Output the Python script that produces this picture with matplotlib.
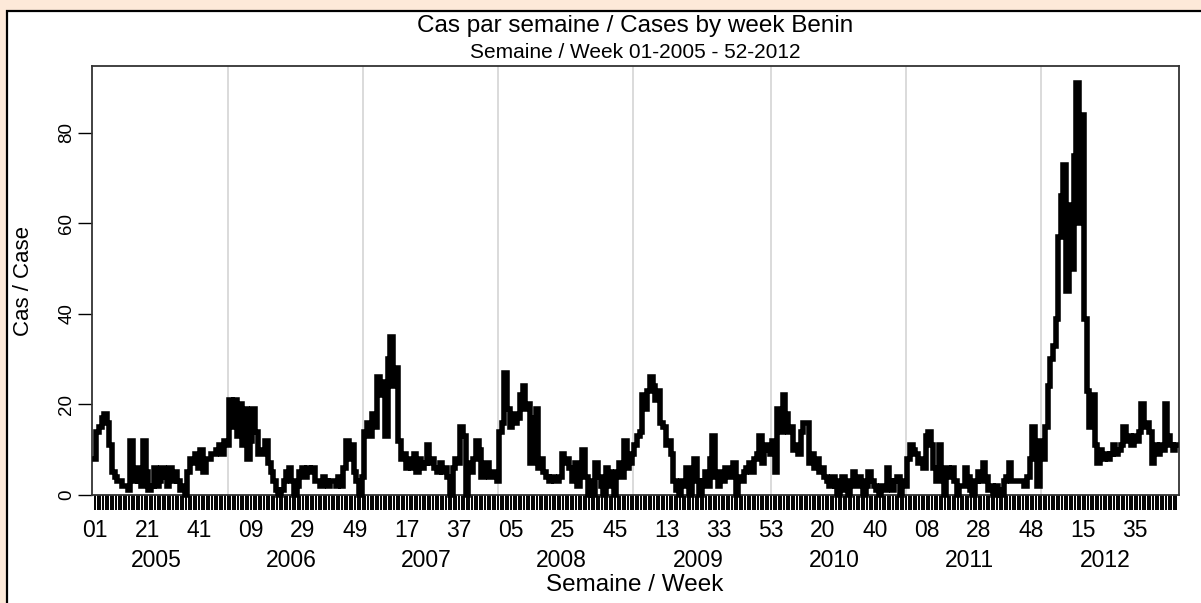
import matplotlib
matplotlib.use("Agg")
import matplotlib.pyplot as plt
from matplotlib.patches import Rectangle
import numpy as np

plt.rcParams['font.family'] = ['Liberation Sans', 'DejaVu Sans']

# weekly cases, 2005 wk01 .. 2012 wk52 (2009 has 53 weeks)
years = ['2005', '2006', '2007', '2008', '2009', '2010', '2011', '2012']
weeks_per_year = [52, 52, 52, 52, 53, 52, 52, 52]

cases_2005 = [8, 14, 15, 17, 18, 16, 11, 5, 4, 3, 3, 2, 2, 1, 12, 3, 6, 3, 2, 12,
              5, 1, 2, 6, 2, 3, 6, 4, 2, 6, 3, 5, 3, 1, 2, 0, 5, 8, 7, 9,
              6, 10, 5, 8, 8, 9, 9, 10, 11, 9, 12, 11]
cases_2006 = [21, 15, 21, 13, 20, 11, 19, 8, 12, 19, 14, 9, 9, 10, 12, 7, 5, 3, 1, 0,
              1, 3, 5, 6, 3, 0, 2, 5, 6, 4, 6, 5, 6, 3, 3, 2, 4, 3, 2, 3,
              3, 2, 4, 2, 6, 12, 8, 11, 5, 3, 0, 4]
cases_2007 = [14, 16, 13, 18, 15, 26, 22, 25, 13, 30, 35, 24, 28, 12, 8, 9, 6, 8, 6, 9,
              5, 8, 6, 7, 11, 7, 8, 6, 5, 7, 5, 6, 4, 0, 6, 8, 7, 15, 13, 0,
              7, 5, 8, 12, 10, 4, 6, 7, 4, 4, 5, 3]
cases_2008 = [14, 16, 27, 19, 15, 18, 16, 17, 22, 24, 19, 20, 7, 17, 19, 6, 8, 5, 4, 3,
              4, 3, 3, 4, 9, 7, 8, 6, 3, 7, 2, 5, 10, 4, 0, 3, 0, 7, 4, 2,
              0, 6, 5, 2, 0, 5, 7, 4, 12, 6, 7, 9]
cases_2009 = [11, 13, 14, 22, 19, 23, 26, 24, 21, 23, 16, 15, 11, 12, 9, 3, 1, 0, 3, 2,
              6, 0, 4, 8, 3, 0, 3, 5, 2, 8, 13, 4, 2, 5, 3, 6, 4, 5, 7, 0,
              4, 3, 5, 6, 7, 5, 8, 9, 13, 7, 10, 11, 9]
cases_2010 = [12, 5, 19, 14, 22, 18, 14, 15, 10, 11, 9, 14, 16, 16, 7, 9, 6, 8, 5, 6,
              4, 3, 2, 4, 2, 0, 3, 4, 1, 0, 3, 5, 2, 4, 3, 0, 2, 5, 3, 2,
              1, 0, 2, 1, 6, 3, 1, 3, 4, 0, 3, 2]
cases_2011 = [8, 11, 10, 9, 7, 8, 6, 13, 14, 11, 6, 3, 11, 5, 0, 6, 4, 6, 3, 0,
              2, 2, 6, 4, 1, 0, 3, 5, 3, 7, 4, 1, 2, 0, 2, 1, 0, 3, 4, 7,
              3, 3, 3, 3, 3, 2, 4, 8, 15, 9, 2, 12]
cases_2012 = [8, 15, 24, 30, 33, 39, 57, 66, 73, 45, 64, 50, 75, 91, 60, 84, 39, 23, 15, 22,
              11, 7, 10, 8, 9, 8, 9, 11, 9, 10, 11, 15, 12, 13, 11, 13, 12, 14, 20, 15,
              16, 14, 7, 11, 9, 11, 10, 20, 13, 11, 10, 11]

week_labels = ['01', '21', '41', '09', '29', '49', '17', '37', '05', '25', '45',
               '13', '33', '53', '20', '40', '08', '28', '48', '15', '35']

cases = np.array(cases_2005 + cases_2006 + cases_2007 + cases_2008 +
                 cases_2009 + cases_2010 + cases_2011 + cases_2012, dtype=float)
x = np.arange(len(cases))
year_start = np.concatenate([[0], np.cumsum(weeks_per_year)[:-1]])
year_end = np.cumsum(weeks_per_year) - 1

W, H = 1201, 603
fig = plt.figure(figsize=(W / 100, H / 100), dpi=100)
fig.patch.set_facecolor('#fde9d9')
fig.patches.append(Rectangle((7 / W, -0.05), 1.1, 1 - 11 / H + 0.05,
                             transform=fig.transFigure, facecolor='white',
                             edgecolor='black', linewidth=1.6, zorder=-10))

ax = fig.add_axes([92 / W, 1 - 495 / H, (1179 - 92) / W, (495 - 66) / H])
ax.set_facecolor('none')
ax.set_xlim(-1.2, 417.0)
ax.set_ylim(0, 94.8)

for xs in year_start[1:] - 1:
    ax.axvline(xs, color='#d4d4d4', linewidth=1.2, zorder=1)

ax.plot(x, cases, color='black', linewidth=4.0, drawstyle='steps-mid',
        solid_joinstyle='miter', zorder=3, clip_on=False)

# one tick per week, labels every 20 weeks
ax.set_xticks(x)
ax.set_xticklabels([''] * len(x))
ax.tick_params(axis='x', length=11, width=1.4, direction='out', color='black')
for i, lab in enumerate(week_labels):
    ax.text(i * 20, -0.083, lab, transform=ax.get_xaxis_transform(),
            ha='center', va='center', fontsize=16.5, color='black')
for yr, s, e in zip(years, year_start, year_end):
    ax.text((s + e) / 2 - 2, -0.153, yr, transform=ax.get_xaxis_transform(),
            ha='center', va='center', fontsize=16.5, color='black')

ax.set_yticks([0, 20, 40, 60, 80])
ax.tick_params(axis='y', length=10, width=1.0, direction='out', labelsize=13.5,
               pad=2)
for lab in ax.get_yticklabels():
    lab.set_rotation(90)
    lab.set_va('center')

for sp in ax.spines.values():
    sp.set_color('#333333')
    sp.set_linewidth(1.3)

fig.text(635 / W, 1 - 585 / H, 'Semaine / Week', ha='center', va='center',
         fontsize=17.5)
fig.text(24 / W, 1 - 281 / H, 'Cas / Case', ha='center', va='center',
         rotation=90, fontsize=16)
fig.text(635 / W, 1 - 26 / H, 'Cas par semaine / Cases by week Benin',
         ha='center', va='center', fontsize=17.5)
fig.text(635 / W, 1 - 53 / H, 'Semaine / Week 01-2005 - 52-2012',
         ha='center', va='center', fontsize=15)

fig.savefig('out.png', dpi=100, facecolor=fig.get_facecolor())
